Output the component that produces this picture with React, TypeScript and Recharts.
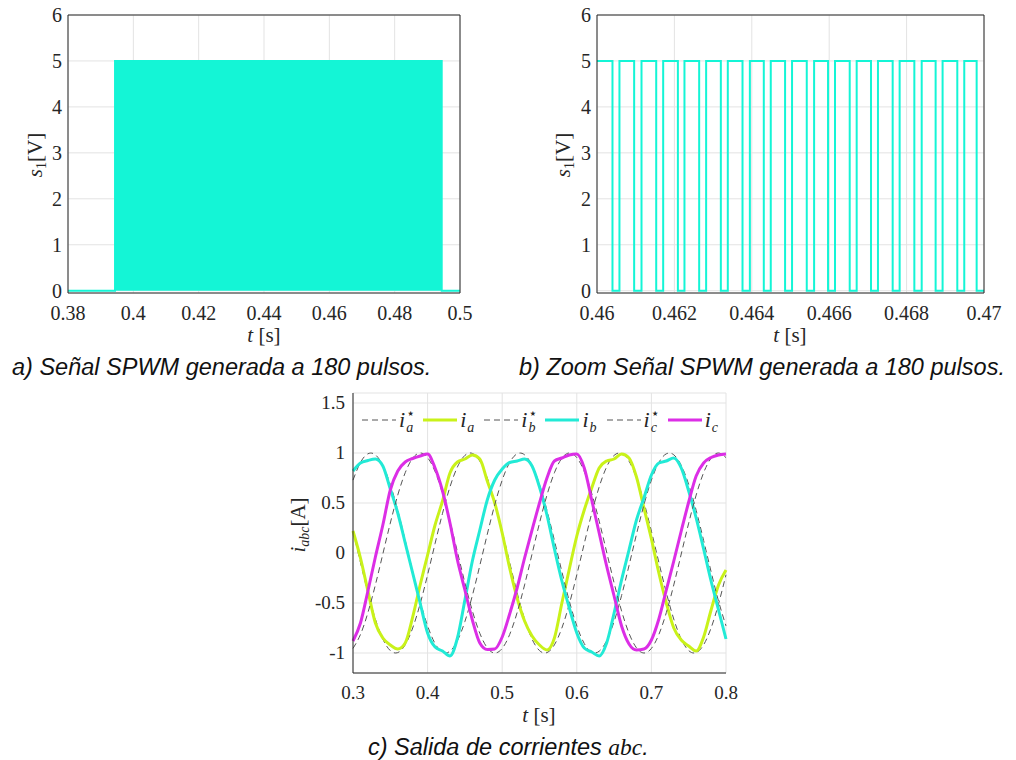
import {
  Area,
  AreaChart,
  CartesianGrid,
  Legend,
  Line,
  LineChart,
  ReferenceLine,
  XAxis,
  YAxis,
} from 'recharts'

// a) envelope of the 180-pulse burst (pulses too dense to separate)
const burstT = [0.38, 0.3944, 0.4944, 0.5]
const burstS = [0, 5, 0, 0]
const ticksA = [0.38, 0.4, 0.42, 0.44, 0.46, 0.48, 0.5]
const ticksS = [0, 1, 2, 3, 4, 5, 6]

// b) zoom: falling and rising edges of the pulse train
const ticksB = [0.46, 0.462, 0.464, 0.466, 0.468, 0.47]
const fallsB = [
  0.4604, 0.46096, 0.46153, 0.46209, 0.46264, 0.4632, 0.46376, 0.46431, 0.46486,
  0.46542, 0.46597, 0.46653, 0.46708, 0.46764, 0.4682, 0.46875, 0.46931, 0.46981,
]
const risesB = [
  0.46058, 0.46115, 0.46171, 0.46226, 0.46282, 0.46338, 0.46395, 0.46449, 0.46504,
  0.46561, 0.46615, 0.46671, 0.46726, 0.46782, 0.46839, 0.46893, 0.46949,
]

// c) abc currents
const tC = [
  0.3, 0.31, 0.32, 0.33, 0.34, 0.35, 0.36, 0.37, 0.38, 0.39,
  0.4, 0.41, 0.42, 0.43, 0.44, 0.45, 0.46, 0.47, 0.48, 0.49,
  0.5, 0.51, 0.52, 0.53, 0.54, 0.55, 0.56, 0.57, 0.58, 0.59,
  0.6, 0.61, 0.62, 0.63, 0.64, 0.65, 0.66, 0.67, 0.68, 0.69,
  0.7, 0.71, 0.72, 0.73, 0.74, 0.75, 0.76, 0.77, 0.78, 0.79,
  0.8,
]
const iaRef = [
  0.218, -0.094, -0.397, -0.661, -0.861, -0.976, -0.996, -0.918, -0.75, -0.509,
  -0.218, 0.094, 0.397, 0.661, 0.861, 0.976, 0.996, 0.918, 0.75, 0.509,
  0.218, -0.094, -0.397, -0.661, -0.861, -0.976, -0.996, -0.918, -0.75, -0.509,
  -0.218, 0.094, 0.397, 0.661, 0.861, 0.976, 0.996, 0.918, 0.75, 0.509,
  0.218, -0.094, -0.397, -0.661, -0.861, -0.976, -0.996, -0.918, -0.75, -0.509,
  -0.218,
]
const ia = [
  0.22, -0.05, -0.38, -0.7, -0.85, -0.92, -0.96, -0.9, -0.64, -0.32,
  -0.02, 0.28, 0.52, 0.8, 0.91, 0.94, 0.98, 0.94, 0.72, 0.5,
  0.2, -0.15, -0.45, -0.68, -0.83, -0.92, -0.97, -0.85, -0.5, -0.16,
  0.17, 0.43, 0.65, 0.85, 0.92, 0.94, 0.99, 0.95, 0.76, 0.45,
  0.14, -0.2, -0.5, -0.75, -0.87, -0.93, -0.98, -0.84, -0.57, -0.32,
  -0.17,
]
const ibRef = [
  0.729, 0.905, 0.992, 0.982, 0.876, 0.685, 0.426, 0.125, -0.187, -0.482,
  -0.729, -0.905, -0.992, -0.982, -0.876, -0.685, -0.426, -0.125, 0.187, 0.482,
  0.729, 0.905, 0.992, 0.982, 0.876, 0.685, 0.426, 0.125, -0.187, -0.482,
  -0.729, -0.905, -0.992, -0.982, -0.876, -0.685, -0.426, -0.125, 0.187, 0.482,
  0.729, 0.905, 0.992, 0.982, 0.876, 0.685, 0.426, 0.125, -0.187, -0.482,
  -0.729,
]
const ib = [
  0.82, 0.9, 0.925, 0.94, 0.87, 0.64, 0.4, 0.1, -0.2, -0.5,
  -0.8, -0.94, -0.98, -1.03, -0.85, -0.47, -0.08, 0.23, 0.53, 0.73,
  0.84, 0.905, 0.92, 0.94, 0.87, 0.66, 0.38, 0.04, -0.28, -0.55,
  -0.8, -0.95, -0.99, -1.03, -0.9, -0.6, -0.27, 0.03, 0.33, 0.55,
  0.78, 0.9, 0.92, 0.95, 0.85, 0.62, 0.35, 0.04, -0.28, -0.57,
  -0.86,
]
const icRef = [
  -0.954, -0.815, -0.596, -0.319, -0.01, 0.299, 0.579, 0.803, 0.948, 1.0,
  0.954, 0.815, 0.596, 0.319, 0.01, -0.299, -0.579, -0.803, -0.948, -1.0,
  -0.954, -0.815, -0.596, -0.319, -0.01, 0.299, 0.579, 0.803, 0.948, 1.0,
  0.954, 0.815, 0.596, 0.319, 0.01, -0.299, -0.579, -0.803, -0.948, -1.0,
  -0.954, -0.815, -0.596, -0.319, -0.01, 0.299, 0.579, 0.803, 0.948, 1.0,
  0.954,
]
const ic = [
  -0.88, -0.7, -0.38, -0.04, 0.28, 0.63, 0.82, 0.91, 0.945, 0.97,
  0.99, 0.85, 0.62, 0.3, -0.07, -0.37, -0.67, -0.9, -0.965, -0.96,
  -0.84, -0.61, -0.35, -0.05, 0.23, 0.5, 0.75, 0.92, 0.95, 0.98,
  0.99, 0.85, 0.53, 0.2, -0.13, -0.43, -0.73, -0.91, -0.97, -0.96,
  -0.87, -0.66, -0.37, -0.08, 0.22, 0.51, 0.77, 0.9, 0.955, 0.98,
  0.99,
]
const ticksCX = [0.3, 0.4, 0.5, 0.6, 0.7, 0.8]
const ticksCY = [-1, -0.5, 0, 0.5, 1, 1.5]

const INK = '#262626'
const GRID = '#e3e3e3'
const PULSE = '#14f5d6'
const REF = '#555555'
const SERIF = '"Liberation Serif", "Times New Roman", serif'
const SANS = '"Liberation Sans", Arial, sans-serif'

const seriesC = [
  { key: 'iaRef', sub: 'a', star: true, color: REF, width: 1, dash: '6 4' },
  { key: 'ia', sub: 'a', star: false, color: '#c9f21a', width: 3, dash: undefined },
  { key: 'ibRef', sub: 'b', star: true, color: REF, width: 1, dash: '6 4' },
  { key: 'ib', sub: 'b', star: false, color: '#22ead6', width: 3, dash: undefined },
  { key: 'icRef', sub: 'c', star: true, color: REF, width: 1, dash: '6 4' },
  { key: 'ic', sub: 'c', star: false, color: '#dc2ee6', width: 3, dash: undefined },
]

const dataA = burstT.map((t, i) => ({ t, s: burstS[i] }))

const dataB: { t: number; s: number }[] = [{ t: 0.46, s: 5 }]
fallsB.forEach((f, i) => {
  dataB.push({ t: f, s: 0 })
  if (i < risesB.length) dataB.push({ t: risesB[i], s: 5 })
})
dataB.push({ t: 0.47, s: 0 })

const dataC = tC.map((t, i) => ({
  t,
  iaRef: iaRef[i],
  ia: ia[i],
  ibRef: ibRef[i],
  ib: ib[i],
  icRef: icRef[i],
  ic: ic[i],
}))

// serif tick labels
function makeTick(size: number) {
  return function SerifTick(props: any) {
    const { x, y, payload, textAnchor, orientation } = props
    const dy = orientation === 'bottom' ? '0.71em' : '0.34em'
    return (
      <text
        x={x}
        y={y}
        dy={dy}
        textAnchor={textAnchor}
        style={{ fill: INK, fontSize: size, fontFamily: SERIF }}
      >
        {String(payload.value)}
      </text>
    )
  }
}
const TickAB = makeTick(20)
const TickC = makeTick(19)

function LegendC() {
  return (
    <div style={{ display: 'flex', alignItems: 'center', color: INK }}>
      {seriesC.map((s) => (
        <div key={s.key} style={{ display: 'flex', alignItems: 'center', marginRight: 7 }}>
          <svg width={34} height={10} style={{ marginRight: 3 }}>
            <line x1={0} y1={5} x2={34} y2={5} stroke={s.color} strokeWidth={s.width} strokeDasharray={s.dash} />
          </svg>
          <span style={{ display: 'inline-flex', alignItems: 'flex-start', fontFamily: SERIF, fontStyle: 'italic' }}>
            <span style={{ fontSize: 22, lineHeight: '26px' }}>i</span>
            <span style={{ position: 'relative', width: 10, height: 26, marginLeft: 1 }}>
              {s.star && (
                <span
                  style={{
                    position: 'absolute',
                    left: 0,
                    top: -1,
                    fontStyle: 'normal',
                    fontFamily: '"DejaVu Sans", sans-serif',
                    fontSize: 14,
                    lineHeight: '14px',
                  }}
                >
                  ⋆
                </span>
              )}
              <span style={{ position: 'absolute', left: 0, top: 14, fontSize: 14, lineHeight: '14px' }}>{s.sub}</span>
            </span>
          </span>
        </div>
      ))}
    </div>
  )
}

export default function App() {
  return (
    <div
      style={{
        position: 'absolute',
        left: 0,
        top: 0,
        width: 1016,
        height: 760,
        background: '#fff',
        fontFamily: SERIF,
      }}
    >
      <div style={{ position: 'absolute', left: 0, top: 0 }}>
        <AreaChart width={480} height={390} data={dataA} margin={{ top: 15, right: 20, bottom: 67, left: 18 }}>
          <CartesianGrid stroke={GRID} />
          <XAxis
            dataKey="t"
            type="number"
            domain={[0.38, 0.5]}
            ticks={ticksA}
            height={30}
            tickSize={0}
            tickMargin={13}
            axisLine={{ stroke: INK }}
            tick={<TickAB />}
          />
          <YAxis
            type="number"
            domain={[-0.05, 6]}
            ticks={ticksS}
            width={50}
            tickSize={0}
            tickMargin={6}
            axisLine={{ stroke: INK }}
            tick={<TickAB />}
          />
          <Area
            type="stepAfter"
            dataKey="s"
            stroke={PULSE}
            strokeWidth={2}
            fill={PULSE}
            fillOpacity={1}
            dot={false}
            activeDot={false}
            isAnimationActive={false}
          />
          <ReferenceLine y={6} stroke={INK} />
          <ReferenceLine x={0.5} stroke={INK} />
        </AreaChart>
      </div>

      <div style={{ position: 'absolute', left: 520, top: 0 }}>
        <LineChart width={496} height={390} data={dataB} margin={{ top: 15, right: 32, bottom: 67, left: 27 }}>
          <CartesianGrid stroke={GRID} />
          <XAxis
            dataKey="t"
            type="number"
            domain={[0.46, 0.47]}
            ticks={ticksB}
            height={30}
            tickSize={0}
            tickMargin={13}
            axisLine={{ stroke: INK }}
            tick={<TickAB />}
          />
          <YAxis
            type="number"
            domain={[-0.05, 6]}
            ticks={ticksS}
            width={50}
            tickSize={0}
            tickMargin={6}
            axisLine={{ stroke: INK }}
            tick={<TickAB />}
          />
          <Line
            type="stepAfter"
            dataKey="s"
            stroke={PULSE}
            strokeWidth={2}
            dot={false}
            activeDot={false}
            isAnimationActive={false}
          />
          <ReferenceLine y={6} stroke={INK} />
          <ReferenceLine x={0.47} stroke={INK} />
        </LineChart>
      </div>

      <div style={{ position: 'absolute', left: 280, top: 380 }}>
        <LineChart width={460} height={330} data={dataC} margin={{ top: 13, right: 14, bottom: 7, left: 23 }}>
          <CartesianGrid stroke={GRID} />
          <XAxis
            dataKey="t"
            type="number"
            domain={[0.3, 0.8]}
            ticks={ticksCX}
            height={30}
            tickSize={0}
            tickMargin={13}
            axisLine={{ stroke: INK }}
            tick={<TickC />}
          />
          <YAxis
            type="number"
            domain={[-1.2, 1.6]}
            ticks={ticksCY}
            width={50}
            tickSize={0}
            tickMargin={8}
            axisLine={{ stroke: INK }}
            tick={<TickC />}
          />
          <Legend
            layout="horizontal"
            verticalAlign="middle"
            align="center"
            wrapperStyle={{ top: 27, left: 82, width: 'auto' }}
            content={() => <LegendC />}
          />
          {seriesC.map((s) => (
            <Line
              key={s.key}
              type={s.star ? 'natural' : 'monotone'}
              dataKey={s.key}
              stroke={s.color}
              strokeWidth={s.width}
              strokeDasharray={s.dash}
              dot={false}
              activeDot={false}
              isAnimationActive={false}
            />
          ))}
        </LineChart>
      </div>

      <svg width={1016} height={760} style={{ position: 'absolute', left: 0, top: 0, pointerEvents: 'none' }}>
        <g fontFamily={SERIF} fontSize={21} fill={INK}>
          <text x={264} y={342} textAnchor="middle">
            <tspan fontStyle="italic">t</tspan>
            <tspan>{'\u00a0[s]'}</tspan>
          </text>
          <text x={790} y={342} textAnchor="middle">
            <tspan fontStyle="italic">t</tspan>
            <tspan>{'\u00a0[s]'}</tspan>
          </text>
          <text x={539} y={722} textAnchor="middle">
            <tspan fontStyle="italic">t</tspan>
            <tspan>{'\u00a0[s]'}</tspan>
          </text>
          <text transform="translate(42 155) rotate(-90)" textAnchor="middle">
            <tspan fontStyle="italic">s</tspan>
            <tspan fontSize={14} dy={4}>1</tspan>
            <tspan dy={-4}>[V]</tspan>
          </text>
          <text transform="translate(570 155) rotate(-90)" textAnchor="middle">
            <tspan fontStyle="italic">s</tspan>
            <tspan fontSize={14} dy={4}>1</tspan>
            <tspan dy={-4}>[V]</tspan>
          </text>
          <text transform="translate(305 525) rotate(-90)" textAnchor="middle">
            <tspan fontStyle="italic">i</tspan>
            <tspan fontSize={14} fontStyle="italic" dy={4}>abc</tspan>
            <tspan dy={-4}>[A]</tspan>
          </text>
        </g>
        <g fontFamily={SANS} fontStyle="italic" fontSize={23.5} fill="#111">
          <text x={12} y={375}>a) Señal SPWM generada a 180 pulsos.</text>
          <text x={519} y={375}>b) Zoom Señal SPWM generada a 180 pulsos.</text>
          <text x={368} y={755}>
            <tspan>c) Salida de corrientes </tspan>
            <tspan fontFamily={SERIF} fontStyle="italic">abc</tspan>
            <tspan>.</tspan>
          </text>
        </g>
      </svg>
    </div>
  )
}
